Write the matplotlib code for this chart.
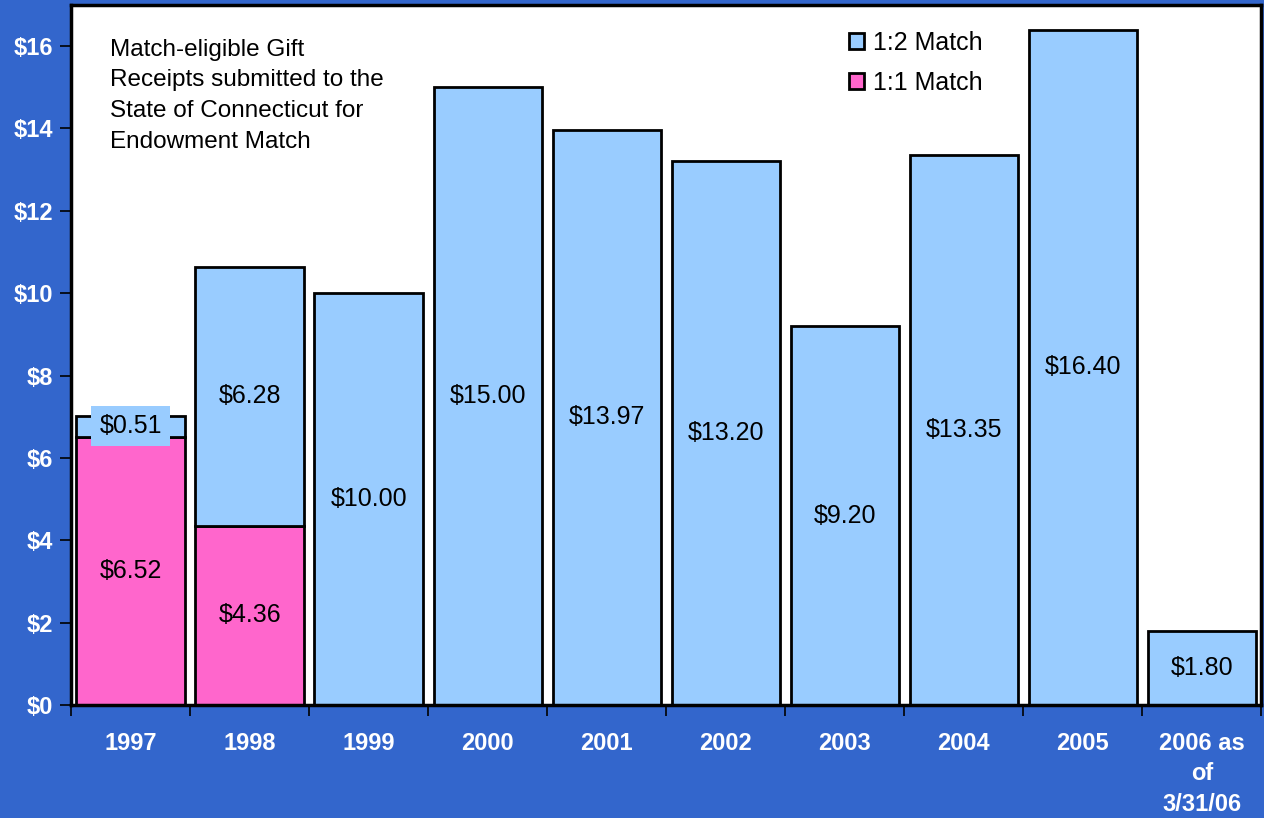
import numpy as np
import matplotlib.pyplot as plt

plt.rcParams['font.family'] = ['Liberation Sans', 'DejaVu Sans']

years = ["1997", "1998", "1999", "2000", "2001", "2002", "2003", "2004", "2005", "2006 as\nof\n3/31/06"]
match_1_1 = [6.52, 4.36, 0, 0, 0, 0, 0, 0, 0, 0]
match_1_2 = [0.51, 6.28, 10.00, 15.00, 13.97, 13.20, 9.20, 13.35, 16.40, 1.80]

bg = "#3366CC"
blue = "#99CCFF"
pink = "#FF66CC"

fig = plt.figure(figsize=(12.64, 8.18), dpi=100, facecolor=bg)
ax = fig.add_axes([0.0562, 0.138, 0.9418, 0.856])
ax.set_facecolor("white")

x = np.arange(len(years))
pink_bars = ax.bar(x, match_1_1, width=0.91, color=pink, edgecolor="black", linewidth=2, label="1:1 Match")
blue_bars = ax.bar(x, match_1_2, width=0.91, bottom=match_1_1, color=blue, edgecolor="black", linewidth=2, label="1:2 Match")
for b, v in zip(pink_bars, match_1_1):
    if v == 0:
        b.set_visible(False)

# value labels centred in each segment
for i in range(len(years)):
    if match_1_1[i] > 0:
        ax.text(x[i], match_1_1[i] / 2, "$%.2f" % match_1_1[i], ha="center", va="center", fontsize=18)
    mid = match_1_1[i] + match_1_2[i] / 2
    if i == 0:
        ax.text(x[i], mid, "$%.2f" % match_1_2[i], ha="center", va="center", fontsize=18,
                bbox=dict(facecolor=blue, edgecolor="none", pad=6))
    else:
        ax.text(x[i], mid, "$%.2f" % match_1_2[i], ha="center", va="center", fontsize=18)

ax.set_xlim(-0.5, len(years) - 0.5)
ax.set_ylim(0, 17)
ax.set_yticks(range(0, 17, 2))
ax.set_yticklabels(["$%d" % v for v in range(0, 17, 2)], fontsize=17, fontweight="bold", color="white")
ax.tick_params(axis="y", length=8, width=1.2, color="black", pad=5)

ax.set_xticks(x)
ax.set_xticklabels(years, fontsize=17, fontweight="bold", color="white", linespacing=1.42)
ax.tick_params(axis="x", length=0, pad=19)
ax.set_xticks(np.arange(-0.5, len(years), 1), minor=True)
ax.tick_params(axis="x", which="minor", length=8, width=1.2, color="black")

for s in ax.spines.values():
    s.set_color("black")
    s.set_linewidth(2.5)

ax.text(0.033, 0.952, "Match-eligible Gift\nReceipts submitted to the\nState of Connecticut for\nEndowment Match",
        transform=ax.transAxes, ha="left", va="top", fontsize=17.5, linespacing=1.52)

handles, labels = ax.get_legend_handles_labels()
leg = fig.legend(handles[::-1], labels[::-1], loc="upper left", bbox_to_anchor=(0.654, 0.99),
                 frameon=False, fontsize=18, handlelength=0.6, handleheight=0.6,
                 handletextpad=0.35, labelspacing=0.66)

fig.savefig("out.png", dpi=100, facecolor=bg)
